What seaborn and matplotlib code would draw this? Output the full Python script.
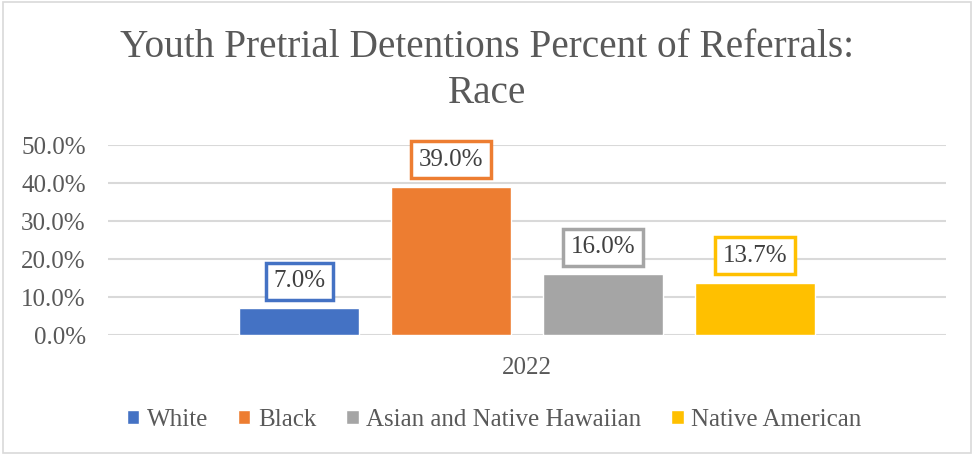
import matplotlib
matplotlib.use("Agg")
import matplotlib.pyplot as plt
import matplotlib.patches as mpatches
import seaborn as sns
import pandas as pd

# Data
years = ["2022"]
races = ["White", "Black", "Asian and Native Hawaiian", "Native American"]
percents = [7.0, 39.0, 16.0, 13.7]
colors = ["#4472C4", "#ED7D31", "#A5A5A5", "#FFC000"]
yticks = [0, 10, 20, 30, 40, 50]

df = pd.DataFrame({"year": years * len(races), "race": races, "pct": percents})

sns.set_theme(style="white")
plt.rcParams["font.family"] = ["Liberation Serif"]
text_color = "#595959"

fig = plt.figure(figsize=(9.74, 4.55), dpi=100)
ax = fig.add_axes([108 / 974, 1 - 335 / 455, (946 - 108) / 974, (335 - 145) / 455])

sns.barplot(data=df, x="year", y="pct", hue="race", hue_order=races,
            palette=colors, width=0.725, gap=0.21, ax=ax, legend=True,
            saturation=1)

ax.set_ylim(0, 50)
ax.set_xlim(-0.5, 0.5)
ax.set_yticks(yticks)
ax.set_yticklabels([f"{v:.1f}%" for v in yticks], fontsize=18, color=text_color)
ax.tick_params(axis="y", length=0, pad=16)
ax.tick_params(axis="x", length=0, pad=16, labelsize=18, labelcolor=text_color)
ax.set_xlabel("")
ax.set_ylabel("")
ax.grid(axis="y", color="#D9D9D9", linewidth=1.5)
ax.set_axisbelow(True)
for s in ax.spines.values():
    s.set_visible(False)

# Value labels in outlined boxes above each bar
for container, color in zip(ax.containers, colors):
    for bar in container:
        h = bar.get_height()
        ax.annotate(f"{h:.1f}%", (bar.get_x() + bar.get_width() / 2, h),
                    xytext=(0, 27), textcoords="offset pixels",
                    ha="center", va="center", fontsize=18, color="#404040",
                    bbox=dict(boxstyle="square,pad=0.3", fc="white",
                              ec=color, lw=2.5))

# Legend below the plot
handles, labels = ax.get_legend_handles_labels()
ax.legend_.remove()
fig.legend(handles, labels, loc="center",
           bbox_to_anchor=(0.5 + 7 / 974, 1 - 420 / 455),
           ncol=4, frameon=False, fontsize=18, handlelength=0.5, handleheight=0.5,
           handletextpad=0.3, columnspacing=1.2, labelcolor=text_color)

fig.suptitle("Youth Pretrial Detentions Percent of Referrals:\nRace",
             x=0.5, y=1 - 29 / 455, va="top", fontsize=28.3, color=text_color,
             linespacing=1.32)

# Chart border
fig.patches.append(mpatches.Rectangle((0.003, 0.004), 0.994, 0.992,
                                      transform=fig.transFigure, fill=False,
                                      ec="#D9D9D9", lw=1.2))

fig.savefig("out.png", dpi=100)
